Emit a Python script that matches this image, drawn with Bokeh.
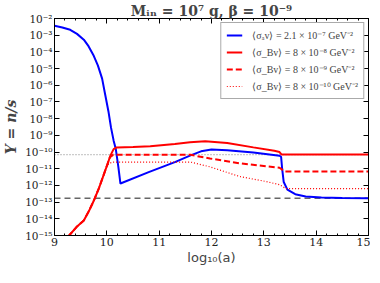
from bokeh.plotting import figure
from bokeh.models import (LinearAxis, LogAxis, SingleIntervalTicker, FixedTicker,
                          CustomJSTickFormatter, Legend)
from bokeh.embed import file_html
from bokeh.resources import INLINE

# ---------------- data ----------------
title_text = "Mᵢₙ = 10⁷ g, β = 10⁻⁹"
x_label = "log₁₀(a)"
y_label = "Y = n/s"

blue_x = [9.00, 9.15, 9.30, 9.43, 9.56, 9.65, 9.75, 9.83, 9.91, 9.97, 10.03, 10.08, 10.13,
          10.17, 10.22, 10.26, 10.80, 11.30, 11.60, 11.80, 12.00, 12.30, 12.80, 13.30,
          13.33, 13.35, 13.38, 13.45, 13.60, 13.80, 14.10, 14.50, 15.00]
blue_y = [3.7e-3, 2.9e-3, 2.1e-3, 1.2e-3, 5.4e-4, 2.2e-4, 5.8e-5, 1.5e-5, 2.5e-6, 2.6e-7,
          2.8e-8, 2.9e-9, 4.8e-10, 1.6e-10, 1.3e-11, 1.3e-12, 6.3e-12, 2.5e-11, 6.3e-11,
          1.1e-10, 1.4e-10, 1.3e-10, 9.5e-11, 6.0e-11, 5.2e-11, 1.0e-11, 1.6e-12, 5.6e-13,
          3.0e-13, 2.2e-13, 1.9e-13, 1.75e-13, 1.7e-13]

red_x = [9.20, 9.28, 9.42, 9.56, 9.66, 9.75, 9.85, 9.94, 10.01, 10.07, 10.13, 10.19, 10.50,
         10.83, 11.30, 11.59, 11.88, 12.30, 12.80, 13.20, 13.30, 13.34, 15.00]
red_y = [2.5e-16, 1.0e-15, 3.2e-15, 7.9e-15, 3.0e-14, 1.2e-13, 7.0e-13, 4.3e-12, 1.8e-11,
         6.3e-11, 1.5e-10, 1.9e-10, 2.0e-10, 2.2e-10, 3.0e-10, 3.8e-10, 4.4e-10, 3.5e-10,
         1.9e-10, 1.2e-10, 1.0e-10, 7.1e-11, 7.1e-11]

red_dash_x = [9.20, 9.28, 9.42, 9.56, 9.66, 9.75, 9.85, 9.94, 10.01, 10.06, 10.12, 11.60,
              11.97, 12.54, 13.30, 13.40, 15.00]
red_dash_y = [2.5e-16, 1.0e-15, 3.2e-15, 7.9e-15, 3.0e-14, 1.2e-13, 7.0e-13, 4.3e-12,
              1.8e-11, 5.0e-11, 6.8e-11, 6.8e-11, 4.1e-11, 2.1e-11, 1.15e-11, 6.8e-12,
              6.8e-12]

red_dot_x = [9.20, 9.28, 9.42, 9.56, 9.66, 9.75, 9.85, 9.94, 10.00, 10.10, 11.60, 11.97,
             12.54, 13.05, 13.30, 13.42, 15.00]
red_dot_y = [2.5e-16, 1.0e-15, 3.2e-15, 7.9e-15, 3.0e-14, 1.2e-13, 7.0e-13, 4.3e-12,
             1.6e-11, 2.5e-11, 2.5e-11, 1.3e-11, 3.4e-12, 1.7e-12, 1.1e-12, 6.5e-13,
             6.5e-13]

ref_x = [9.0, 15.0]
gray_dot_y = [7.0e-11, 7.0e-11]
gray_dash_y = [1.7e-13, 1.7e-13]

legend_labels = ["⟨σₐv⟩ = 2.1 × 10⁻⁷ GeV⁻²",
                 "⟨σ_Bv⟩ = 8 × 10⁻⁸ GeV⁻²",
                 "⟨σ_Bv⟩ = 8 × 10⁻⁹ GeV⁻²",
                 "⟨σ_Bv⟩ = 8 × 10⁻¹⁰ GeV⁻²"]

x_limits = (9, 15)
y_limits = (1e-15, 1e-2)
y_ticks = [1e-2, 1e-3, 1e-4, 1e-5, 1e-6, 1e-7, 1e-8, 1e-9, 1e-10, 1e-11, 1e-12,
           1e-13, 1e-14, 1e-15]

# ---------------- figure ----------------
p = figure(width=370, height=267, x_range=x_limits, y_range=y_limits,
           y_axis_type="log", output_backend="svg", toolbar_location=None,
           title=title_text, min_border_left=2, min_border_right=2,
           min_border_top=2, min_border_bottom=2)
p.title.align = "center"
p.title.text_font = "DejaVu Serif"
p.title.text_font_size = "14px"
p.title.text_font_style = "bold"
p.title.standoff = 0
p.title.offset = 0
p.outline_line_color = "black"
p.outline_line_width = 1
p.background_fill_color = "white"
p.border_fill_color = "white"
p.xgrid.visible = False
p.ygrid.visible = False

sup_js = """
const sup = {'-':'\u207b','0':'\u2070','1':'\u00b9','2':'\u00b2','3':'\u00b3','4':'\u2074',
             '5':'\u2075','6':'\u2076','7':'\u2077','8':'\u2078','9':'\u2079'};
const e = Math.round(Math.log10(tick));
return '10' + String(e).split('').map(c => sup[c]).join('');
"""

xticker = SingleIntervalTicker(interval=1, num_minor_ticks=5)
yticker = FixedTicker(ticks=y_ticks)

def style_axis(ax):
    ax.major_tick_in = 5
    ax.major_tick_out = 0
    ax.minor_tick_in = 2
    ax.minor_tick_out = 0
    ax.axis_line_color = "black"
    ax.major_tick_line_color = "black"
    ax.minor_tick_line_color = "black"
    ax.major_label_standoff = 2
    ax.major_label_text_font = "DejaVu Serif"
    ax.major_label_text_font_size = "10.5px"
    ax.major_label_text_color = "#222222"

xa = p.below[0]
xa.ticker = xticker
style_axis(xa)
xa.major_label_text_font_size = "11px"
xa.axis_label = x_label
xa.axis_label_text_font = "DejaVu Sans"
xa.axis_label_text_font_size = "13px"
xa.axis_label_text_font_style = "normal"
xa.axis_label_standoff = 1

ya = p.left[0]
ya.ticker = yticker
ya.formatter = CustomJSTickFormatter(code=sup_js)
style_axis(ya)
ya.axis_label = y_label
ya.axis_label_text_font = "DejaVu Serif"
ya.axis_label_text_font_size = "14px"
ya.axis_label_text_font_style = "bold italic"
ya.axis_label_standoff = 3

top = LinearAxis(ticker=xticker)
style_axis(top)
top.major_label_text_font_size = "1px"
top.major_label_standoff = 0
top.formatter = CustomJSTickFormatter(code="return '';")
p.add_layout(top, "above")

right = LogAxis(ticker=yticker)
style_axis(right)
right.major_label_text_font_size = "1px"
right.major_label_standoff = 0
right.formatter = CustomJSTickFormatter(code="return '';")
p.add_layout(right, "right")

# ---------------- lines ----------------
p.line(ref_x, gray_dot_y, line_color="#999999", line_width=1.2, line_dash="1 2")
p.line(ref_x, gray_dash_y, line_color="#666666", line_width=1.5, line_dash="6 4")

r_blue = p.line(blue_x, blue_y, line_color="#0000ff", line_width=2)
r_red = p.line(red_x, red_y, line_color="#ff0000", line_width=2)
r_dash = p.line(red_dash_x, red_dash_y, line_color="#ff0000", line_width=2, line_dash="6 3")
r_dot = p.line(red_dot_x, red_dot_y, line_color="#ff0000", line_width=1.2, line_dash="1 2")

legend = Legend(items=[(legend_labels[0], [r_blue]), (legend_labels[1], [r_red]),
                       (legend_labels[2], [r_dash]), (legend_labels[3], [r_dot])],
                location="top_right")
legend.label_text_font = "Liberation Serif"
legend.label_text_font_size = "10px"
legend.label_height = 12
legend.glyph_height = 12
legend.glyph_width = 16
legend.label_standoff = 10
legend.spacing = 3
legend.padding = 5
legend.margin = 4
legend.border_line_color = "#555555"
legend.border_line_width = 1
legend.background_fill_alpha = 1
p.add_layout(legend, "center")

open("out.html", "w").write(file_html(p, INLINE))
